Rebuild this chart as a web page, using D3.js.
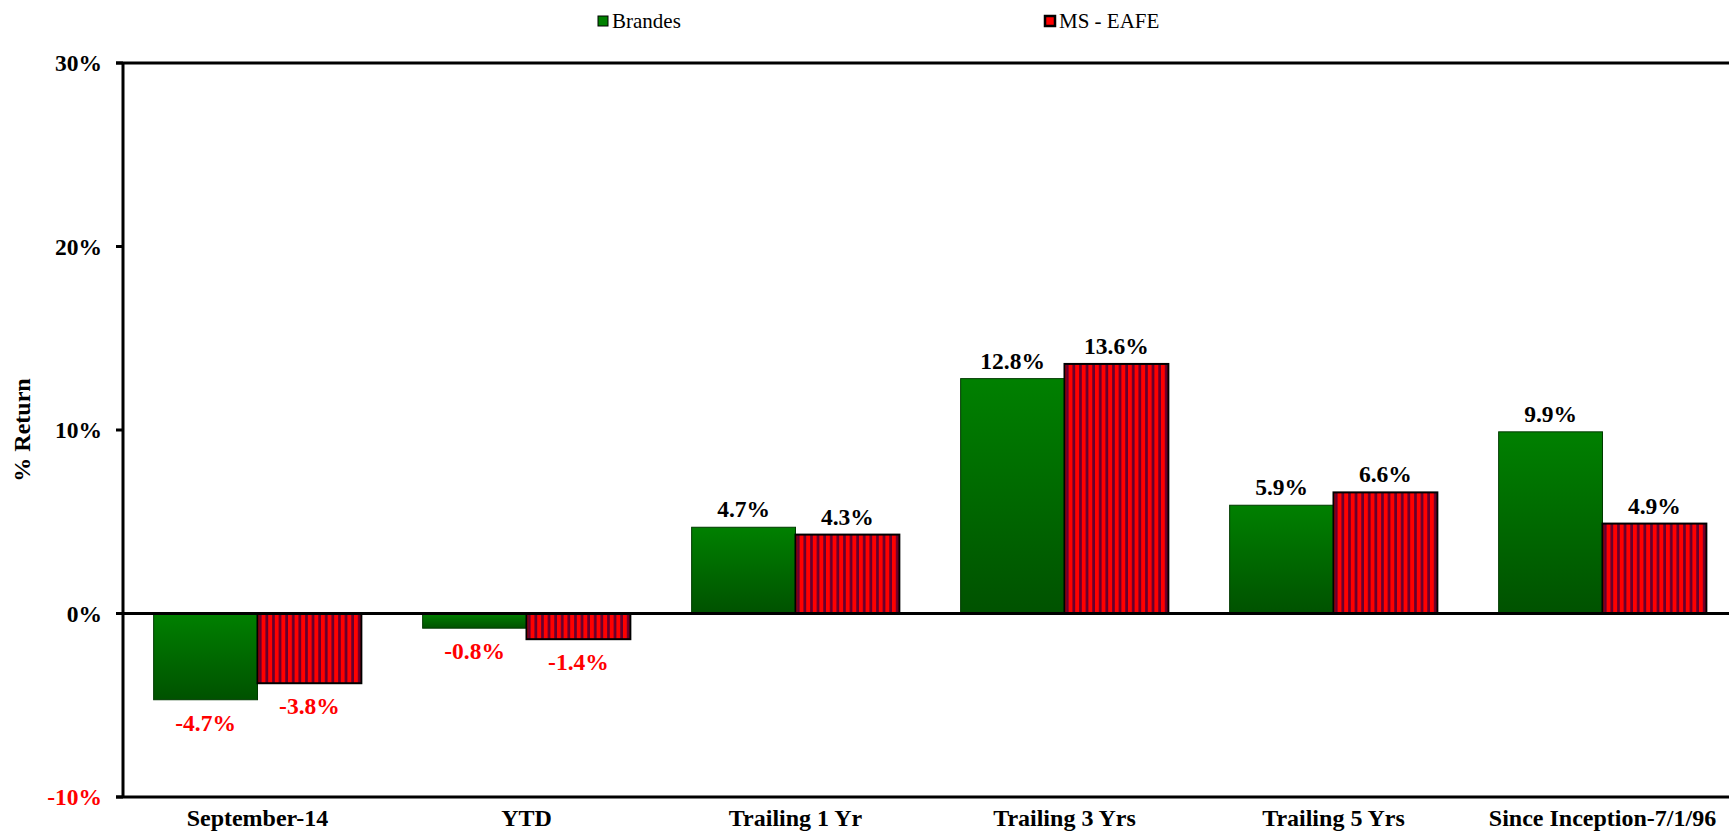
<!DOCTYPE html>
<meta charset="utf-8">

<style>
body{
	background-color: #fff;
	margin: 0px;
}
text{
	font-family: "Liberation Serif", "Times New Roman", serif;
}
.lbl{
	font-weight: bold;
	font-size: 23.5px;
}
</style>

<body></body>

<script src="https://cdn.jsdelivr.net/npm/d3@7"></script>

<script>

var categories = ['September-14', 'YTD', 'Trailing 1 Yr', 'Trailing 3 Yrs', 'Trailing 5 Yrs', 'Since Inception-7/1/96']
var seriesNames = ['Brandes', 'MS - EAFE']
var brandes = [-4.7, -0.8, 4.7, 12.8, 5.9, 9.9]
var eafe    = [-3.8, -1.4, 4.3, 13.6, 6.6, 4.9]
var yTicks  = [-10, 0, 10, 20, 30]

var width  = 1729,
		height = 839,
		plotL = 123, plotT = 63, plotB = 797,
		plotR = plotL + 6*269

var svg = d3.select('body')
	.append('svg')
		.attr('width', width)
		.attr('height', height)

var defs = svg.append('defs')

var grad = defs.append('linearGradient')
		.attr('id', 'green')
		.attr('x1', 0).attr('y1', 0).attr('x2', 0).attr('y2', 1)
grad.append('stop').attr('offset', '0%').attr('stop-color', '#008000')
grad.append('stop').attr('offset', '100%').attr('stop-color', '#005200')

var pat = defs.append('pattern')
		.attr('id', 'stripes')
		.attr('patternUnits', 'userSpaceOnUse')
		.attr('width', 6.6).attr('height', 10)
pat.append('rect').attr('width', 6.6).attr('height', 10).attr('fill', '#ff0000')
pat.append('rect').attr('x', 3.9).attr('width', 2.7).attr('height', 10).attr('fill', '#66002e')

var y = d3.scaleLinear().domain([-10, 30]).range([plotB, plotT])
var x = d3.scaleBand().domain(categories).range([plotL, plotR])
var xs = d3.scaleBand().domain(seriesNames).range([0, x.bandwidth()]).paddingOuter(0.295)

var fmt = function(v){ return (v < 0 ? '-' : '') + Math.abs(v).toFixed(1) + '%' }

var rows = categories.map(function(c, i){
	return {cat: c, vals: [
		{s: seriesNames[0], v: brandes[i]},
		{s: seriesNames[1], v: eafe[i]}
	]}
})

// bars
var gs = svg.selectAll('g.cat').data(rows).enter()
	.append('g')
		.attr('class', 'cat')
		.attr('transform', function(d){ return 'translate(' + x(d.cat) + ',0)' })

gs.selectAll('rect').data(function(d){ return d.vals }).enter()
	.append('rect')
		.attr('x', function(d){ return xs(d.s) })
		.attr('width', xs.bandwidth())
		.attr('y', function(d){ return y(Math.max(0, d.v)) })
		.attr('height', function(d){ return Math.abs(y(d.v) - y(0)) })
		.attr('fill', function(d, i){ return i == 0 ? 'url(#green)' : 'url(#stripes)' })
		.attr('stroke', function(d, i){ return i == 0 ? '#003a00' : '#000' })
		.attr('stroke-width', function(d, i){ return i == 0 ? 1 : 2 })

gs.selectAll('text').data(function(d){ return d.vals }).enter()
	.append('text')
		.attr('class', 'lbl')
		.attr('text-anchor', 'middle')
		.attr('x', function(d){ return xs(d.s) + xs.bandwidth()/2 })
		.attr('y', function(d){ return d.v >= 0 ? y(d.v) - 10 : y(d.v) + 31 })
		.attr('fill', function(d){ return d.v < 0 ? '#ff0000' : '#000' })
		.text(function(d){ return fmt(d.v) })

// axes / frame
svg.append('line')
		.attr('x1', plotL).attr('x2', plotL).attr('y1', plotT).attr('y2', plotB)
		.attr('stroke', '#000').attr('stroke-width', 3)
svg.append('line')
		.attr('x1', plotL - 7).attr('x2', width).attr('y1', plotT).attr('y2', plotT)
		.attr('stroke', '#000').attr('stroke-width', 3)
svg.append('line')
		.attr('x1', plotL - 7).attr('x2', width).attr('y1', plotB).attr('y2', plotB)
		.attr('stroke', '#000').attr('stroke-width', 3)
svg.append('line')
		.attr('x1', plotL - 7).attr('x2', width).attr('y1', y(0)).attr('y2', y(0))
		.attr('stroke', '#000').attr('stroke-width', 3)

var yAxis = svg.selectAll('g.ytick').data(yTicks).enter()
	.append('g')
		.attr('class', 'ytick')
yAxis.append('line')
		.attr('x1', plotL - 7).attr('x2', plotL)
		.attr('y1', function(d){ return y(d) }).attr('y2', function(d){ return y(d) })
		.attr('stroke', '#000').attr('stroke-width', 3)
yAxis.append('text')
		.attr('class', 'lbl')
		.attr('text-anchor', 'end')
		.attr('x', 102)
		.attr('y', function(d){ return y(d) + 8 })
		.attr('fill', function(d){ return d < 0 ? '#ff0000' : '#000' })
		.text(function(d){ return d + '%' })

svg.selectAll('text.cat').data(categories).enter()
	.append('text')
		.attr('class', 'lbl')
		.style('font-size', '24px')
		.attr('text-anchor', 'middle')
		.attr('x', function(d){ return x(d) + x.bandwidth()/2 })
		.attr('y', 826)
		.text(function(d){ return d })

svg.append('text')
		.attr('class', 'lbl')
		.style('font-size', '24px')
		.attr('text-anchor', 'middle')
		.attr('transform', 'translate(30,430) rotate(-90)')
		.text('% Return')

// legend
var legX = [598, 1045]
var leg = svg.selectAll('g.leg').data(seriesNames).enter()
	.append('g')
		.attr('class', 'leg')
		.attr('transform', function(d, i){ return 'translate(' + legX[i] + ',16)' })
leg.append('rect')
		.attr('width', 10).attr('height', 10)
		.attr('fill', function(d, i){ return i == 0 ? '#008000' : '#ff0000' })
		.attr('stroke', '#000')
		.attr('stroke-width', function(d, i){ return i == 0 ? 1 : 2.5 })
leg.append('text')
		.attr('x', 14).attr('y', 12)
		.style('font-size', '21px')
		.text(function(d){ return d })

</script>
